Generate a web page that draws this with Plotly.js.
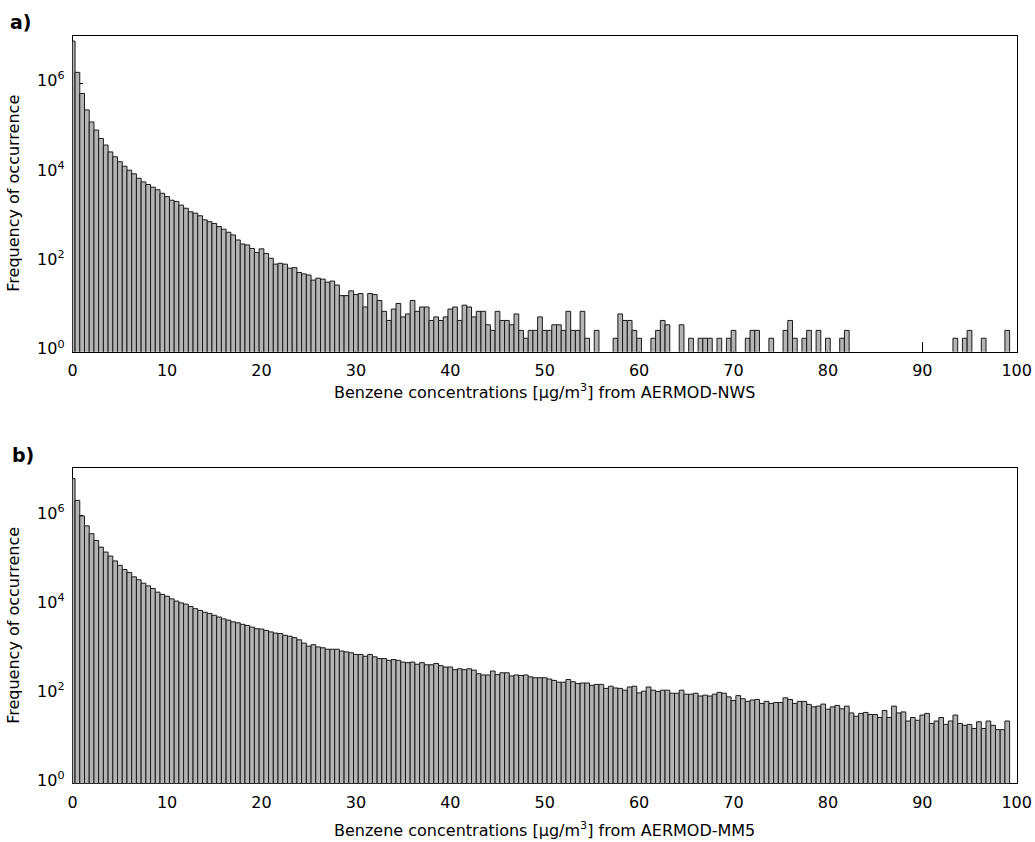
<!DOCTYPE html>
<html>
<head>
<meta charset="utf-8">
<script src="https://cdn.plot.ly/plotly-3.0.1.min.js"></script>
<style>html,body{margin:0;padding:0;background:#fff;}#chart{width:1035px;height:842px;}</style>
</head>
<body>
<div id="chart"></div>
<script>
// Histogram bins: first bin centre and bin width (µg/m3)
const binStart = 0;
const binWidth = 0.5;

// a) AERMOD-NWS frequency of occurrence per bin (null = empty bin)
const nwsCounts = [
  8900000, 1780000, 600000, 257000, 138000, 91000, 59000, 42000, 29500, 23000,
  17800, 14100, 11500, 9550, 7600, 6300, 5500, 4800, 4200, 3500,
  2950, 2450, 2300, 1900, 1620, 1350, 1260, 1100, 890, 810,
  740, 630, 550, 470, 410, 316, 257, 245, 204, 166,
  200, 158, 123, 91, 95, 91, 74, 76, 59, 55,
  52, 40, 44, 42, 36, 38, 31, 18, 18, 23,
  19, 20, 10, 20, 19, 14, 8, 5, 9, 12,
  6, 7, 14, 8, 10, 10, 5, 6, 5, 6,
  9, 10, 5, 11, 10, 6, 8, 8, 4, 3,
  8, 5, 5, 4, 7, 3, 2, 3, 3, 6,
  3, 3, 4, 4, 3, 8, 3, 3, 8, 2,
  null, 3, null, null, null, 2, 7, 5, 5, 3,
  2, null, null, 2, 3, 5, 4, null, null, 4,
  null, 2, null, 2, 2, 2, null, 2, null, 2,
  3, null, null, 2, 3, 3, null, null, 2, null,
  null, 3, 5, 2, null, 2, 3, null, 3, null,
  2, null, null, 2, 3, null, null, null, null, null,
  null, null, null, null, null, null, null, null, null, null,
  null, null, null, null, null, null, null, 2, null, 2,
  3, null, null, 2, null, null, null, null, 3
];

// b) AERMOD-MM5 frequency of occurrence per bin
const mm5Counts = [
  6900000, 2240000, 1000000, 600000, 400000, 282000, 200000, 155000, 126000, 98000,
  78000, 63000, 54000, 43000, 37000, 31000, 27000, 23500, 19500, 17400,
  15800, 13800, 12300, 11200, 10500, 9300, 8300, 7600, 6900, 6500,
  5900, 5400, 4900, 4600, 4200, 4000, 3700, 3500, 3200, 2950,
  2900, 2700, 2500, 2350, 2300, 2100, 2000, 1860, 1660, 1400,
  1200, 1290, 1150, 1100, 1020, 1020, 1020, 930, 890, 850,
  780, 780, 710, 780, 690, 630, 630, 575, 600, 575,
  525, 510, 525, 470, 510, 457, 457, 490, 436, 407,
  407, 355, 372, 355, 372, 347, 288, 270, 270, 331,
  275, 302, 302, 257, 270, 263, 270, 245, 234, 234,
  234, 219, 204, 186, 186, 214, 190, 174, 178, 178,
  158, 166, 166, 135, 151, 138, 135, 123, 145, 151,
  107, 117, 145, 123, 115, 123, 123, 105, 105, 123,
  100, 100, 105, 91, 95, 91, 100, 110, 105, 87,
  72, 93, 79, 69, 74, 76, 62, 69, 62, 65,
  65, 83, 76, 62, 69, 69, 59, 52, 54, 60,
  46, 52, 56, 47, 54, 38, 32, 37, 39, 35,
  35, 30, 43, 30, 54, 38, 40, 25, 30, 26,
  34, 37, 22, 25, 30, 21, 25, 34, 22, 20,
  21, 17, 24, 17, 25, 20, 16, 16, 25
];

const xTickVals = [0, 10, 20, 30, 40, 50, 60, 70, 80, 90, 100];
const yTickVals = [1, 100, 10000, 1000000];
const yTickText = ['10<sup>0</sup>', '10<sup>2</sup>', '10<sup>4</sup>', '10<sup>6</sup>'];

const panelLabels = ['a)', 'b)'];
const xTitles = ['Benzene concentrations [\u03bcg/m<sup>3</sup>] from AERMOD-NWS',
                 'Benzene concentrations [\u03bcg/m<sup>3</sup>] from AERMOD-MM5'];
const yTitle = 'Frequency of occurrence';

const W = 1035, H = 842;
const px = v => v / W;
const py = v => 1 - v / H;

const FONT = 'DejaVu Sans, Verdana, sans-serif';
const barStyle = {color: '#b4b4b4', line: {color: '#1a1a1a', width: 1}};

const traces = [
  {type: 'bar', x0: binStart, dx: binWidth, y: nwsCounts, xaxis: 'x', yaxis: 'y',
   marker: barStyle, hoverinfo: 'x+y'},
  {type: 'bar', x0: binStart, dx: binWidth, y: mm5Counts, xaxis: 'x2', yaxis: 'y2',
   marker: barStyle, hoverinfo: 'x+y'}
];

function xAxis(anchor) {
  return {
    domain: [px(72.7), px(1016.7)], anchor: anchor, range: [0, 100],
    tickmode: 'array', tickvals: xTickVals, ticks: 'inside', ticklen: 10, tickwidth: 1,
    tickcolor: '#000', showline: true, mirror: true, linecolor: '#000', linewidth: 1,
    showgrid: false, zeroline: false, layer: 'below traces',
    ticklabelstandoff: 4,
    tickfont: {family: FONT, size: 16, color: '#000'}
  };
}
function yAxis(top, bottom, anchor) {
  return {
    domain: [py(bottom), py(top)], anchor: anchor, type: 'log', range: [0, 7.07],
    tickmode: 'array', tickvals: yTickVals, ticktext: yTickText,
    ticks: 'inside', ticklen: 10, tickwidth: 1, tickcolor: '#000',
    showline: true, mirror: true, linecolor: '#000', linewidth: 1,
    showgrid: false, zeroline: false, layer: 'below traces',
    ticklabelshift: -3, ticklabelstandoff: 4,
    tickfont: {family: FONT, size: 16, color: '#000'}
  };
}

const annotations = [
  {text: '<b>' + panelLabels[0] + '</b>', x: px(21), y: py(22)},
  {text: '<b>' + panelLabels[1] + '</b>', x: px(23), y: py(455)},
  {text: xTitles[0], x: px(544.7), y: py(391)},
  {text: xTitles[1], x: px(544.7), y: py(829)},
  {text: yTitle, x: px(14), y: py(193.7), textangle: -90},
  {text: yTitle, x: px(14), y: py(625.8), textangle: -90}
].map((a, i) => Object.assign({
  xref: 'paper', yref: 'paper', showarrow: false, xanchor: 'center', yanchor: 'middle',
  font: {family: FONT, size: i < 2 ? 19 : 16, color: '#000'}
}, a));

const layout = {
  width: W, height: H, margin: {l: 0, r: 0, t: 0, b: 0},
  paper_bgcolor: '#fff', plot_bgcolor: '#fff', showlegend: false,
  bargap: 0,
  xaxis: xAxis('y'),
  yaxis: yAxis(35.7, 351.7, 'x'),
  xaxis2: xAxis('y2'),
  yaxis2: yAxis(468.3, 783.3, 'x2'),
  annotations: annotations
};

Plotly.newPlot('chart', traces, layout, {displayModeBar: false, staticPlot: true});
</script>
</body>
</html>
